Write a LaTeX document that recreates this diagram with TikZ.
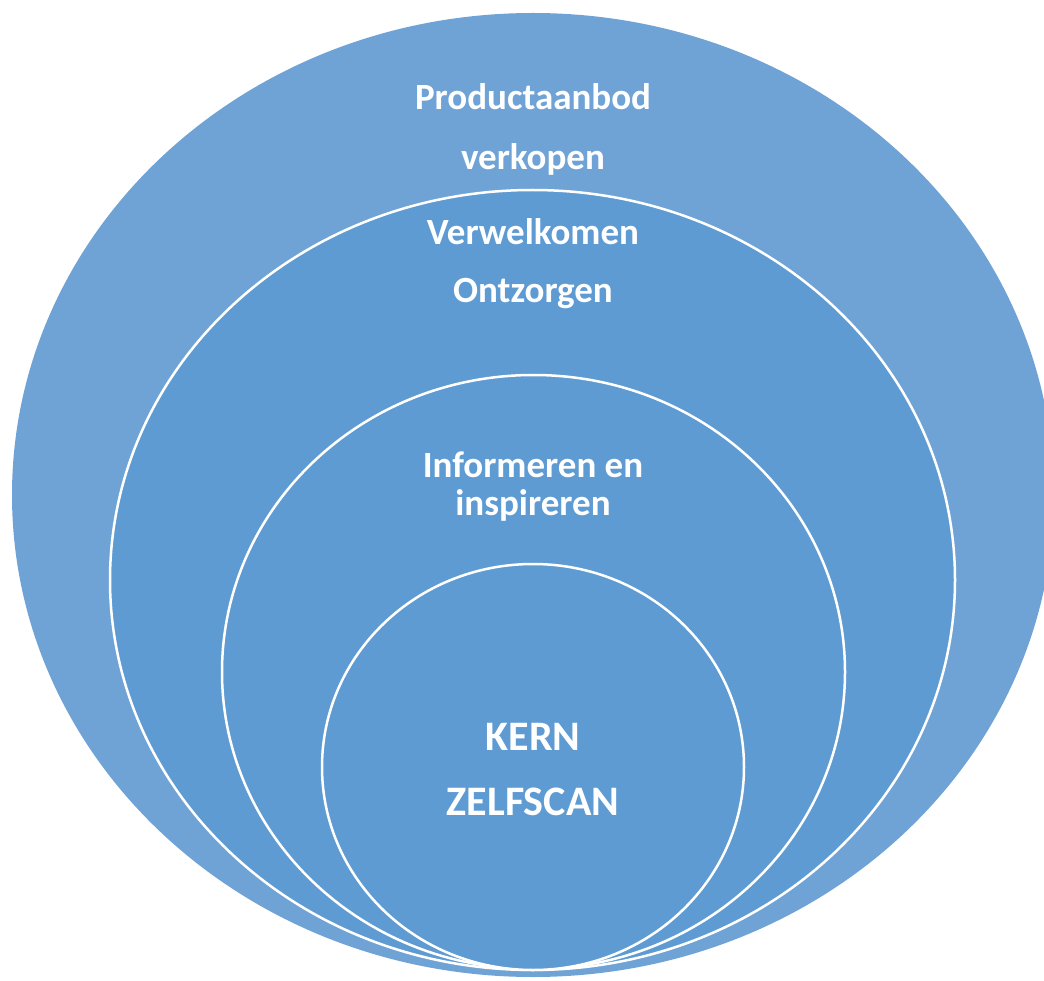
\documentclass[tikz,border=0pt]{standalone}
\usepackage{fontspec}
\setmainfont{Carlito}
\usetikzlibrary{shapes.geometric}
\definecolor{ringouter}{HTML}{6FA3D6}
\definecolor{ringinner}{HTML}{5F9BD3}

\begin{document}
\begin{tikzpicture}[
  x=1pt, y=-1pt,
  ring/.style={ellipse, inner sep=0pt, fill=ringinner, draw=white, line width=2.5pt},
  lbl/.style={anchor=base, text=white, inner sep=0pt,
    font=\fontsize{37}{40}\selectfont\bfseries},
  core/.style={lbl, font=\fontsize{42}{46}\selectfont\bfseries}
]
  \useasboundingbox (0,0) rectangle (1044,981);
  \clip (0,0) rectangle (1044,981);

  % --- Rings, outer to inner ---
  \node[ring, fill=ringouter, draw=none, minimum width=1042pt, minimum height=964pt] (outer) at (533,495) {};
  \node[ring, minimum width=845pt, minimum height=780pt] (welkom) at (532.5,580) {};
  \node[ring, minimum width=623pt, minimum height=594pt] (inform) at (533.5,672) {};
  \node[ring, minimum width=422pt, minimum height=406pt] (kern) at (533,767) {};

  % --- Labels ---
  \node[lbl] (prod) at (533,110) {Productaanbod};
  \node[lbl] (verk) at (533,170) {verkopen};
  \node[lbl] (verw) at (533,245) {Verwelkomen};
  \node[lbl] (ontz) at (533,303) {Ontzorgen};
  \node[lbl] (info) at (533,477) {Informeren en};
  \node[lbl] (insp) at (533,515) {inspireren};
  \node[core] (kernl) at (533,750) {KERN};
  \node[core] (zelf) at (533,815) {ZELFSCAN};
\end{tikzpicture}
\end{document}
